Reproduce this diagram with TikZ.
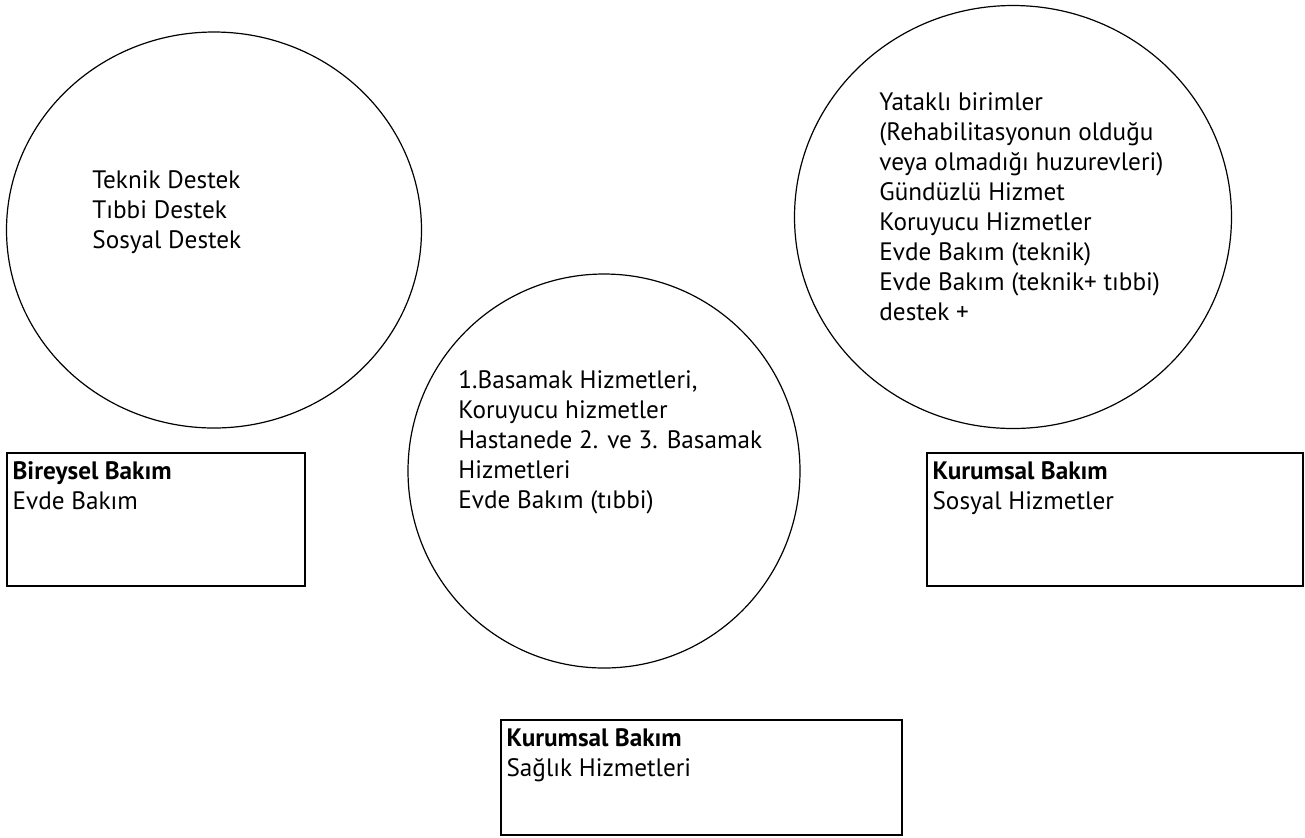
\documentclass[tikz,border=0pt]{standalone}
\usepackage{fontspec}
\setmainfont{PT Sans}
\usepackage{tikz}
\usetikzlibrary{shapes.geometric, positioning}

\begin{document}
\begin{tikzpicture}[
    x=0.5pt, y=-0.5pt,
    halka/.style={ellipse, draw=black, line width=0.6pt, inner sep=0pt},
    kutu/.style={rectangle, draw=black, line width=0.8pt, inner sep=0pt},
    yazi/.style={align=left, inner sep=0pt, font=\fontsize{12.6}{15}\selectfont}
]
    \useasboundingbox (0,0) rectangle (1305,837);
    % halkalar
    \node[halka, minimum width=207.5pt, minimum height=198pt] (destek) at (214,230) {};
    \node[halka, minimum width=218.5pt, minimum height=211.5pt] (sosyal) at (1013,217) {};
    \node[halka, minimum width=196pt, minimum height=197pt] (saglik) at (604,471) {};
    \node[yazi, anchor=north west] (destektxt) at (92,170) {Teknik Destek\\Tıbbi Destek\\Sosyal Destek};
    \node[yazi, anchor=north west] (sosyaltxt) at (879,92) {Yataklı birimler\\(Rehabilitasyonun olduğu\\veya olmadığı huzurevleri)\\Gündüzlü Hizmet\\Koruyucu Hizmetler\\Evde Bakım (teknik)\\Evde Bakım (teknik+ tıbbi)\\destek +};
    \node[yazi, anchor=north west] (sagliktxt) at (458,370) {1.Basamak Hizmetleri,\\Koruyucu hizmetler\\Hastanede 2. ve 3. Basamak\\Hizmetleri\\Evde Bakım (tıbbi)};
    % kutular
    \node[kutu, minimum width=149pt, minimum height=66.5pt] (bireysel) at (156,519.5) {};
    \node[kutu, minimum width=188pt, minimum height=66.5pt] (kurumsal) at (1115,519.5) {};
    \node[kutu, minimum width=200.5pt, minimum height=57.5pt] (hastane) at (701.5,777.5) {};
    \node[yazi, below right=4.5pt and 3pt of bireysel.north west] (bireyseltxt) {\textbf{Bireysel Bakım}\\Evde Bakım};
    \node[yazi, below right=4.5pt and 3pt of kurumsal.north west] (kurumsaltxt) {\textbf{Kurumsal Bakım}\\Sosyal Hizmetler};
    \node[yazi, below right=4.5pt and 3pt of hastane.north west] (hastanetxt) {\textbf{Kurumsal Bakım}\\Sağlık Hizmetleri};
\end{tikzpicture}
\end{document}
